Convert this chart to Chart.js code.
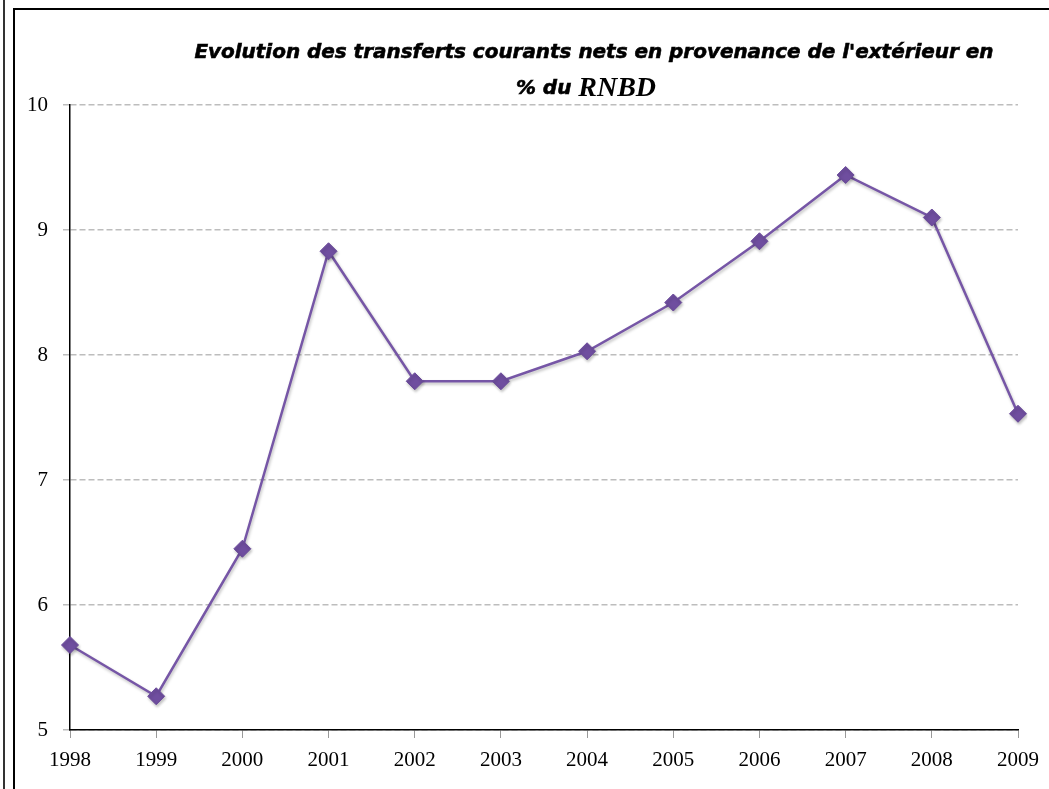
<!DOCTYPE html>
<html>
<head>
<meta charset="utf-8">
<script src="https://cdn.jsdelivr.net/npm/chart.js@4"></script>
<style>
  html, body { margin: 0; padding: 0; background: #fff; }
  #wrap { position: relative; width: 1049px; height: 789px; overflow: hidden; }
  #c { position: absolute; left: 0; top: 0; }
  .ln { position: absolute; background: #000; }
</style>
</head>
<body>
<div id="wrap">
  <canvas id="c" width="1049" height="789"></canvas>
  <div class="ln" style="left:3px;top:0;width:2px;height:789px;background:#333"></div>
  <div class="ln" style="left:13px;top:8px;width:2px;height:781px"></div>
  <div class="ln" style="left:13px;top:8px;width:1036px;height:2px"></div>
</div>
<script>
const years = ['1998','1999','2000','2001','2002','2003','2004','2005','2006','2007','2008','2009'];
const values = [5.68, 5.27, 6.45, 8.83, 7.79, 7.79, 8.03, 8.42, 8.91, 9.44, 9.10, 7.53];
const titleLine1 = "Evolution des transferts courants nets en provenance de l'extérieur en";
const titleLine2a = "% du ";
const titleLine2b = "RNBD";
const yTicks = [5, 6, 7, 8, 9, 10];

const titlePlugin = {
  id: 'customTitle',
  afterDraw(chart) {
    const ctx = chart.ctx;
    const ca = chart.chartArea;
    ctx.save();
    ctx.fillStyle = '#000';
    ctx.strokeStyle = '#000';
    ctx.lineWidth = 0.6;
    ctx.textBaseline = 'middle';
    ctx.font = "italic bold 20px 'DejaVu Sans'";
    let w = ctx.measureText(titleLine1).width;
    const size = 20 * 800 / w;
    const fA = "italic bold " + size.toFixed(2) + "px 'DejaVu Sans'";
    ctx.font = fA;
    const cx = (ca.left + ca.right) / 2 + 50;
    ctx.textAlign = 'center';
    ctx.fillText(titleLine1, cx, ca.top - 52);
    ctx.strokeText(titleLine1, cx, ca.top - 52);
    const fB = "italic bold 28px 'Liberation Serif'";
    ctx.font = fA; const wA = ctx.measureText(titleLine2a).width;
    ctx.font = fB; const wB = ctx.measureText(titleLine2b).width;
    const x0 = cx - 8 - (wA + wB) / 2;
    ctx.textAlign = 'left';
    ctx.font = fA; ctx.fillText(titleLine2a, x0, ca.top - 16); ctx.strokeText(titleLine2a, x0, ca.top - 16);
    ctx.font = fB; ctx.fillText(titleLine2b, x0 + wA, ca.top - 16);
    ctx.restore();
  }
};

const shadowPlugin = {
  id: 'lineShadow',
  beforeDatasetsDraw(chart) {
    const ctx = chart.ctx;
    ctx.save();
    ctx.shadowColor = 'rgba(0,0,0,0.25)';
    ctx.shadowBlur = 3;
    ctx.shadowOffsetX = 1;
    ctx.shadowOffsetY = 2;
  },
  afterDatasetsDraw(chart) {
    chart.ctx.restore();
  }
};

new Chart(document.getElementById('c'), {
  type: 'line',
  data: {
    labels: years,
    datasets: [{
      data: values,
      borderColor: '#7656a6',
      backgroundColor: '#6f4e9f',
      borderWidth: 2.5,
      pointStyle: 'rectRot',
      pointRadius: 8.5,
      pointHoverRadius: 8.5,
      pointBorderColor: '#6a4a9a',
      pointBackgroundColor: '#6f4e9f',
      pointBorderWidth: 1,
      tension: 0,
      fill: false
    }]
  },
  options: {
    responsive: false,
    animation: false,
    devicePixelRatio: 1,
    layout: { padding: { left: 14, right: 27, top: 105, bottom: 0 } },
    plugins: {
      legend: { display: false },
      title: { display: false },
      tooltip: { enabled: false }
    },
    scales: {
      x: {
        type: 'category',
        offset: false,
        grid: { display: true, drawOnChartArea: false, drawTicks: true, tickLength: 8, color: '#999' },
        border: { display: true, color: '#000', width: 1.5 },
        ticks: { color: '#000', font: { family: "'Liberation Serif'", size: 21 }, padding: 10, maxRotation: 0, autoSkip: false },
        afterFit(s) { s.height = 59; }
      },
      y: {
        min: 5, max: 10,
        afterBuildTicks(s) { s.ticks = yTicks.map(v => ({ value: v })); },
        grid: { display: true, drawOnChartArea: true, drawTicks: true, tickLength: 7, color: '#bdbdbd', lineWidth: 1.5 },
        border: { display: true, color: '#000', width: 1.5, dash: [6, 3] },
        ticks: { color: '#000', font: { family: "'Liberation Serif'", size: 21 }, padding: 15 },
        afterFit(s) { s.width = 56; }
      }
    }
  },
  plugins: [titlePlugin, shadowPlugin]
});
</script>
</body>
</html>
